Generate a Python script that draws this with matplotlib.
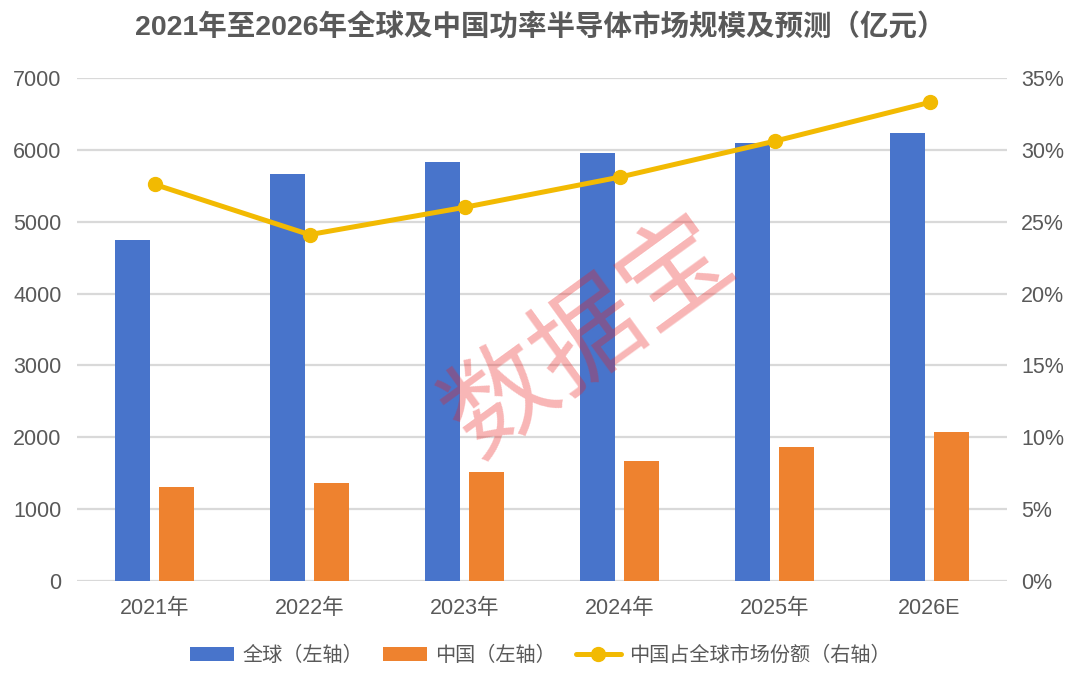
import matplotlib
matplotlib.use("Agg")
import matplotlib.pyplot as plt
import numpy as np
from matplotlib.ticker import FuncFormatter

plt.rcParams["font.family"] = ["Liberation Sans", "Noto Sans CJK SC", "DejaVu Sans"]

years = ["2021年", "2022年", "2023年", "2024年", "2025年", "2026E"]
global_mkt = [4745, 5670, 5835, 5950, 6100, 6240]
china_mkt = [1305, 1365, 1512, 1665, 1868, 2072]
china_share = [27.6, 24.1, 26.0, 28.1, 30.6, 33.3]

BLUE = "#4874CB"
ORANGE = "#EE822F"
YELLOW = "#F2BA02"
GRID = "#D9D9D9"
TEXT = "#595959"

fig = plt.figure(figsize=(10.8, 6.74), dpi=100)
ax = fig.add_axes([77 / 1080, 1 - 581 / 674, 930 / 1080, 503 / 674])
ax2 = ax.twinx()

x = np.arange(len(years))
w = 0.226
off = 0.145
ax.bar(x - off, global_mkt, w, color=BLUE, label="全球（左轴）", zorder=2)
ax.bar(x + off, china_mkt, w, color=ORANGE, label="中国（左轴）", zorder=2)
ax2.plot(x, china_share, color=YELLOW, lw=3.6, marker="o", ms=10,
         label="中国占全球市场份额（右轴）", solid_capstyle="round")

ax.set_xlim(-0.5, 5.5)
ax.set_ylim(0, 7000)
ax.set_yticks(range(0, 7001, 1000))
ax2.set_ylim(0, 35)
ax2.set_yticks(range(0, 36, 5))
ax2.yaxis.set_major_formatter(FuncFormatter(lambda v, p: f"{v:.0f}%"))

ax.set_xticks(x)
ax.set_xticklabels(years)
ax.grid(axis="y", color=GRID, lw=1.6, zorder=0)
ax.set_axisbelow(True)

for a in (ax, ax2):
    for s in a.spines.values():
        s.set_visible(False)
    a.tick_params(length=0, labelsize=15.5, colors=TEXT)
ax.tick_params(axis="y", pad=11)
ax2.tick_params(axis="y", pad=10)
ax.tick_params(axis="x", pad=12)

fig.text(0.5, 1 - 28 / 674, "2021年至2026年全球及中国功率半导体市场规模及预测（亿元）",
         ha="center", va="center", fontsize=20.5, fontweight="bold", color=TEXT)

# watermark
fig.text(590 / 1080, 1 - 338 / 674, "数据宝", ha="center", va="center",
         fontsize=78, rotation=36, color=(0.92, 0.12, 0.12), alpha=0.33,
         family=["Noto Sans CJK SC"], fontweight="light", zorder=10)

h1, l1 = ax.get_legend_handles_labels()
h2, l2 = ax2.get_legend_handles_labels()
fig.legend(h1 + h2, l1 + l2, loc="center", bbox_to_anchor=(0.5, 1 - 655 / 674),
           ncol=3, frameon=False, fontsize=14.5, labelcolor=TEXT,
           handlelength=2.2, handleheight=0.7, handletextpad=0.4, columnspacing=1.0)

fig.savefig("out.png", dpi=100)
